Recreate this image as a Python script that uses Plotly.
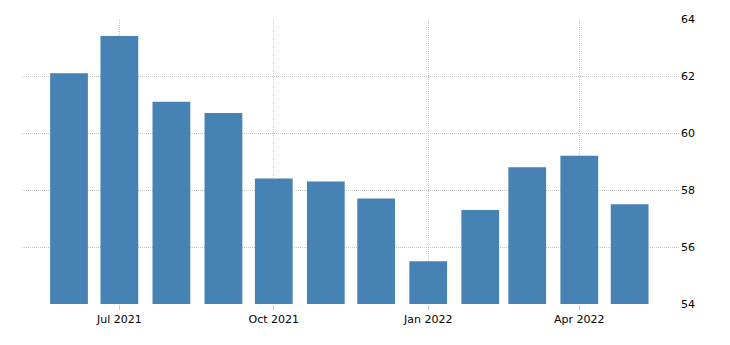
import plotly.graph_objects as go

months = ["2021-06-01", "2021-07-01", "2021-08-01", "2021-09-01", "2021-10-01", "2021-11-01",
          "2021-12-01", "2022-01-01", "2022-02-01", "2022-03-01", "2022-04-01", "2022-05-01"]
values = [62.1, 63.4, 61.1, 60.7, 58.4, 58.3, 57.7, 55.5, 57.3, 58.8, 59.2, 57.5]
tick_vals = ["2021-07-01", "2021-10-01", "2022-01-01", "2022-04-01"]
tick_text = ["Jul 2021", "Oct 2021", "Jan 2022", "Apr 2022"]
y_ticks = [54, 56, 58, 60, 62, 64]

DAY = 86400000
fig = go.Figure(go.Bar(x=months, y=values, marker_color="#4682B4",
                       marker_line_width=0, width=[22.5 * DAY] * len(months)))

fig.update_layout(
    width=730, height=345,
    margin=dict(l=22, r=50, t=19, b=41),
    plot_bgcolor="white", paper_bgcolor="white",
    showlegend=False,
    font=dict(family="DejaVu Sans", size=11, color="#000000"),
)
fig.update_xaxes(
    type="date", range=["2021-05-04", "2022-05-31"],
    tickvals=tick_vals, ticktext=tick_text,
    showgrid=True, gridcolor="#c8c8c8", griddash="1px,1px", gridwidth=1,
    ticks="outside", ticklen=5, tickcolor="#c8c8c8",
    showline=False, zeroline=False,
)
fig.update_yaxes(
    side="right", range=[54, 64], tickvals=y_ticks,
    showgrid=True, gridcolor="#c8c8c8", griddash="1px,1px", gridwidth=1,
    ticks="", showline=False, zeroline=False,
)
fig.write_html("out.html")
